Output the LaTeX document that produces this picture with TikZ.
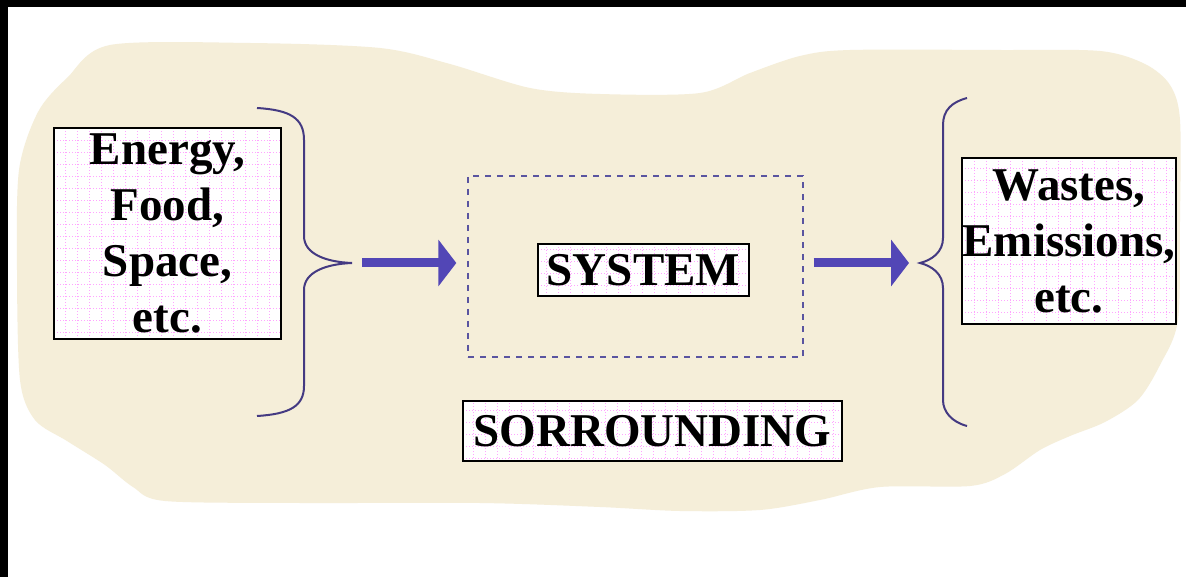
\documentclass[tikz,border=0pt]{standalone}
\usepackage{fontspec}
\setmainfont{Liberation Serif}
\usetikzlibrary{arrows.meta}
\definecolor{beige}{RGB}{245,238,217}
\definecolor{gridpink}{RGB}{255,165,255}
\definecolor{arrowblue}{RGB}{82,70,182}
\definecolor{dashcol}{RGB}{90,84,160}
\definecolor{bracecol}{RGB}{68,58,130}
\tikzset{
  labelbox/.style={draw=black, line width=2pt, fill=white, inner sep=0pt, align=center,
    font=\bfseries\fontsize{47}{56}\selectfont,
    path picture={\draw[gridpink, dotted, line width=1pt, step=12pt]
      (path picture bounding box.south west) grid (path picture bounding box.north east);}},
  dashbox/.style={draw=dashcol, line width=1.4pt, dash pattern=on 6pt off 6pt, inner sep=0pt},
  bracepath/.style={draw=bracecol, line width=2pt},
  flowarrow/.style={draw=arrowblue, line width=9pt, -{Triangle[length=18pt,width=46pt]}},
}
\begin{document}
\begin{tikzpicture}[x=1pt,y=-1pt]
\useasboundingbox (0,0) rectangle (1186,577);
\fill[white] (0,0) rectangle (1186,577);
% surrounding blob
\fill[beige] plot[smooth cycle, tension=0.5] coordinates {
 (110,45) (250,43) (380,48) (450,64) (530,88) (600,94) (700,93) (750,73) (800,56) (850,50)
 (1000,50) (1100,51) (1145,64) (1170,85) (1180,120) (1180,220) (1178,320) (1160,365) (1138,400)
 (1105,422) (1070,436) (1040,450) (1005,474) (970,486) (880,487) (820,500) (760,510) (680,511)
 (600,507) (480,503) (300,503) (165,501) (133,487) (105,465) (67,441) (35,420) (20,380)
 (17,270) (19,170) (38,112) (67,78)};
% black frame bars
\fill[black] (0,0) rectangle (1186,7);
\fill[black] (0,0) rectangle (8,577);
% boxes
\node[labelbox, minimum width=227pt, minimum height=211pt] (inbox) at (167.5,233.5)
  {Energy,\\Food,\\Space,\\etc.};
\node[labelbox, minimum width=214pt, minimum height=166pt] (outbox) at (1069,241)
  {Wastes,\\Emissions,\\etc.};
\node[dashbox, minimum width=335pt, minimum height=181pt] (sys) at (635.5,266.5) {};
\node[labelbox, minimum width=211pt, minimum height=52pt] (system) at (643.5,270) {SYSTEM};
\node[labelbox, minimum width=379pt, minimum height=60pt] (sur) at (652.5,431) {SORROUNDING};
% braces
\coordinate (lb) at (352,263);
\coordinate (rb) at (920,263);
\draw[bracepath] (257,108) .. controls (290,110) and (304,118) .. (304,140) -- (304,236)
  .. controls (304,254) and (326,262) .. (lb)
  .. controls (326,264) and (304,272) .. (304,290) -- (304,386)
  .. controls (304,406) and (290,414) .. (257,416);
\draw[bracepath] (967,98) .. controls (952,102) and (943,110) .. (943,125) -- (943,238)
  .. controls (943,252) and (932,260) .. (rb)
  .. controls (932,266) and (943,274) .. (943,288) -- (943,400)
  .. controls (943,412) and (952,422) .. (967,426);
% arrows
\draw[flowarrow, shorten <=10pt, shorten >=11pt] (lb) -- (lb -| sys.west);
\draw[flowarrow, shorten <=10pt, shorten >=11pt] (rb -| sys.east) -- (rb);
\end{tikzpicture}
\end{document}
